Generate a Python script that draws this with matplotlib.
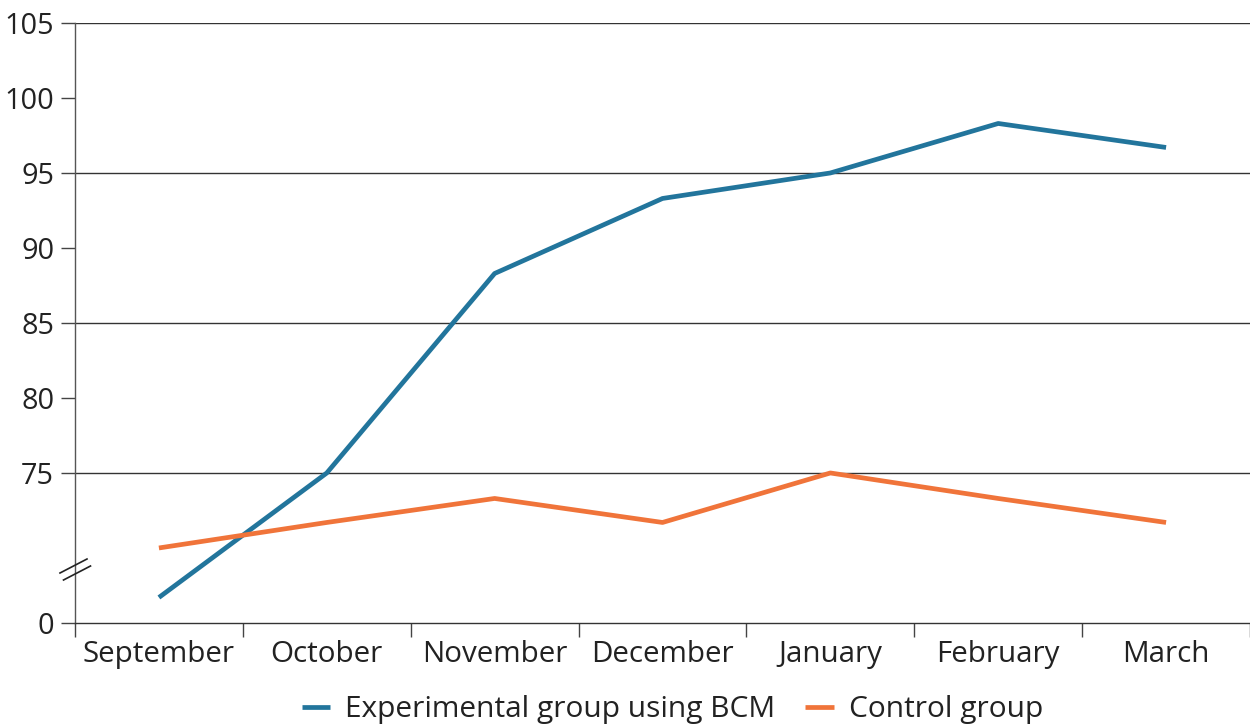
import matplotlib
matplotlib.use("Agg")
import matplotlib.pyplot as plt

plt.rcParams['font.family'] = ['Open Sans', 'DejaVu Sans']

months = ['September', 'October', 'November', 'December', 'January', 'February', 'March']
# values on the broken axis; "0" is drawn at position 65
experimental = [66.7, 75.0, 88.3, 93.3, 95.0, 98.3, 96.7]
control = [70.0, 71.7, 73.3, 71.7, 75.0, 73.3, 71.7]
ytick_pos = [65, 75, 80, 85, 90, 95, 100, 105]
ytick_labels = ['0', '75', '80', '85', '90', '95', '100', '105']
grid_vals = [75, 85, 95, 105]

blue = '#22759c'
orange = '#f0743a'

fig = plt.figure(figsize=(12.5, 7.27), dpi=100)
ax = fig.add_axes([0.06, 0.1431, 0.94, 0.8253])

x = range(len(months))
ax.plot(x, experimental, color=blue, lw=3.4, solid_capstyle='butt', label='Experimental group using BCM', zorder=3)
ax.plot(x, control, color=orange, lw=3.4, solid_capstyle='butt', label='Control group', zorder=3)

for g in grid_vals:
    ax.axhline(g, color='#333333', lw=1.0, zorder=1)

ax.set_xlim(-0.5, 6.5)
ax.set_ylim(65, 105)
ax.set_yticks(ytick_pos)
ax.set_yticklabels(ytick_labels)
ax.set_xticks(x)
ax.set_xticklabels(months)
ax.set_xticks([i - 0.5 for i in range(len(months) + 1)], minor=True)
ax.tick_params(axis='x', which='major', length=0, pad=12, labelsize=21.3, colors='#222222')
ax.tick_params(axis='x', which='minor', length=10, width=1, color='#444444')
ax.tick_params(axis='y', length=10, width=1, color='#444444', labelsize=20.8, labelcolor='#222222', pad=5)

for s in ['top', 'right']:
    ax.spines[s].set_visible(False)
ax.spines['left'].set_color('#555555')
ax.spines['bottom'].set_color('#333333')
ax.spines['left'].set_linewidth(1)
ax.spines['bottom'].set_linewidth(1)

# axis break marks
bx = [60 / 1250, 87 / 1250]
for dy in (0, 7):
    y0 = 1 - (573 + dy) / 727
    y1 = 1 - (559 + dy) / 727
    fig.add_artist(plt.Line2D([bx[0] + dy / 2500, bx[1] + dy / 2500], [y0, y1], color='#222222', lw=1.2))

fig.legend(loc='center', bbox_to_anchor=(0.538, 0.024), ncol=2, frameon=False,
           fontsize=21.5, handlelength=0.95, handletextpad=0.5, columnspacing=1.0,
           labelcolor='#222222')

fig.savefig('out.png', dpi=100)
